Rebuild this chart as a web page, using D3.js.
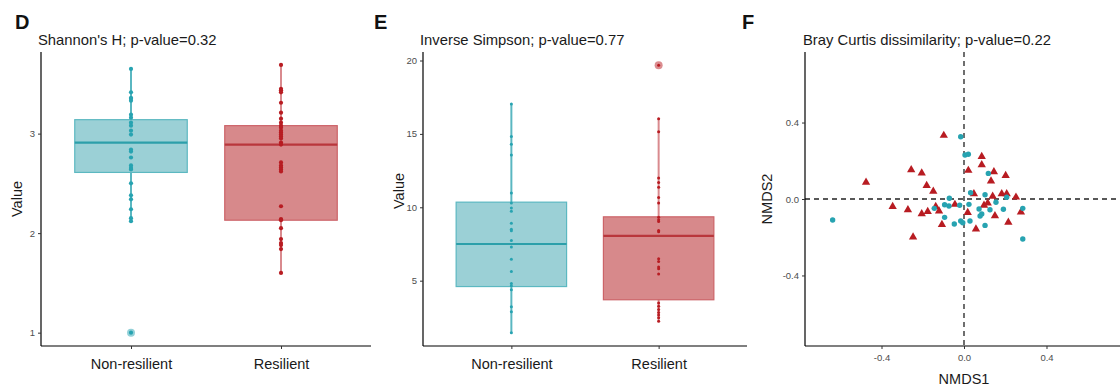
<!DOCTYPE html>
<html>
<head>
<meta charset="utf-8">
<script src="https://cdn.jsdelivr.net/npm/d3@7"></script>
<style>
  html, body { margin: 0; padding: 0; background: #fff; }
  svg { display: block; font-family: "Liberation Sans", Arial, Helvetica, sans-serif; }
</style>
</head>
<body>
<svg id="chart" width="1120" height="388"></svg>
<script>
// ---- data ----
const groups = ["Non-resilient", "Resilient"];

// Shannon's H per sample
const shannonNR = [3.65, 3.415, 3.36, 3.35, 3.33, 3.19, 3.16, 3.11, 3.08, 3.03, 2.99, 2.84,
  2.82, 2.76, 2.68, 2.655, 2.64, 2.50, 2.38, 2.34, 2.24, 2.15, 2.12, 1.0];
const shannonR = [3.69, 3.45, 3.435, 3.415, 3.31, 3.21, 3.15, 3.11, 3.08, 3.06, 3.03, 3.01,
  2.99, 2.97, 2.95, 2.91, 2.89, 2.71, 2.68, 2.66, 2.64, 2.62, 2.27, 2.14, 2.13, 2.05, 1.94,
  1.90, 1.88, 1.84, 1.60];
// box summaries: [lower whisker, Q1, median, Q3, upper whisker]
const shannonBoxNR = [2.12, 2.61, 2.91, 3.14, 3.65];
const shannonBoxR = [1.60, 2.13, 2.89, 3.08, 3.69];
const shannonTicks = [1, 2, 3];

// Inverse Simpson per sample
const simpsonNR = [17.04, 14.83, 14.29, 13.57, 10.97, 10.29, 9.95, 9.73, 8.91, 8.50, 8.40,
  7.74, 7.29, 6.46, 5.63, 4.80, 4.66, 4.39, 3.23, 2.89, 1.46];
const simpsonR = [19.67, 16.04, 15.14, 11.99, 11.69, 11.37, 10.67, 10.29, 9.33, 9.15, 9.03,
  8.42, 8.33, 6.50, 6.31, 5.93, 5.82, 5.46, 3.48, 3.25, 3.03, 2.84, 2.67, 2.48, 2.23];
const simpsonBoxNR = [1.46, 4.60, 7.50, 10.35, 17.04];
const simpsonBoxR = [2.23, 3.70, 8.05, 9.35, 16.04];
const simpsonTicks = [5, 10, 15, 20];

// NMDS ordination (Bray Curtis)
const nmdsNR1 = [-0.016, 0.005, 0.021, 0.118, -0.071, 0.032, 0.102, 0.207, -0.637, -0.144,
  -0.094, -0.073, -0.094, -0.047, -0.021, -0.016, -0.006, 0.024, 0.029, 0.073, 0.078, 0.086,
  0.102, 0.126, 0.155, 0.191, 0.285, 0.285];
const nmdsNR2 = [0.326, 0.230, 0.234, 0.134, 0.004, 0.033, 0.022, 0.009, -0.110, -0.049,
  -0.030, -0.037, -0.096, -0.131, -0.033, -0.115, -0.124, -0.028, -0.115, -0.052, -0.089,
  -0.078, -0.138, -0.056, -0.017, -0.054, -0.049, -0.209];
const nmdsR1 = [-0.475, -0.256, -0.205, -0.181, -0.098, 0.021, 0.086, 0.086, 0.131, 0.145,
  0.202, -0.149, 0.048, 0.139, 0.183, 0.207, 0.252, -0.346, -0.272, -0.205, -0.176, -0.137,
  -0.121, -0.107, -0.044, 0.018, 0.058, 0.097, 0.115, 0.150, 0.215, 0.276, -0.247];
const nmdsR2 = [0.090, 0.155, 0.138, 0.073, 0.335, 0.152, 0.225, 0.181, 0.096, 0.145, 0.125,
  0.043, 0.030, 0.017, 0.030, 0.030, 0.012, -0.037, -0.054, -0.075, -0.063, -0.037, -0.061,
  -0.131, -0.026, -0.068, -0.155, -0.031, -0.019, -0.085, -0.119, -0.066, -0.197];
const nmdsTicks = [-0.4, 0, 0.4];
const nmdsTickLabels = ["-0.4", "0.0", "0.4"];

// ---- styling ----
const pal = {
  "Non-resilient": { dot: "#27a3b1", fill: "#9bd0d6", edge: "#5cb8c1", median: "#2c9faa", whisker: "#5ab7c1" },
  "Resilient": { dot: "#b81c22", fill: "#d7898b", edge: "#cc6368", median: "#b9373c", whisker: "#d98a8e" }
};
const tickColor = "#4d4d4d";
const svg = d3.select("#chart");
svg.append("rect").attr("width", 1120).attr("height", 388).attr("fill", "#fff");

const TOP = 52, BOTTOM = 346;

function axisStyle(g) {
  g.select(".domain").attr("stroke", "#000").attr("stroke-width", 1.2);
  g.selectAll(".tick line").attr("stroke", "#333").attr("stroke-width", 1);
  g.selectAll(".tick text").attr("fill", tickColor).attr("font-size", 9.5)
    .attr("font-family", "Liberation Sans, Arial, sans-serif");
}

function boxPanel(cfg) {
  const x = d3.scalePoint().domain(groups).range([cfg.left, cfg.right]).padding(0.6);
  const y = d3.scaleLinear().domain(cfg.yDomain).range([BOTTOM, TOP]);
  const bw = x.step() * 0.75;
  const g = svg.append("g");

  const sets = [
    { name: groups[0], vals: cfg.nr, box: cfg.boxNR },
    { name: groups[1], vals: cfg.r, box: cfg.boxR }
  ];
  sets.forEach(s => {
    const c = pal[s.name], cx = x(s.name);
    const [lo, q1, med, q3, hi] = s.box;
    // whisker
    g.append("line").attr("x1", cx).attr("x2", cx).attr("y1", y(lo)).attr("y2", y(hi))
      .attr("stroke", c.whisker).attr("stroke-width", 2);
    // box
    g.append("rect").attr("x", cx - bw / 2).attr("width", bw)
      .attr("y", y(q3)).attr("height", y(q1) - y(q3))
      .attr("fill", c.fill).attr("stroke", c.edge).attr("stroke-width", 1.2);
    g.append("line").attr("x1", cx - bw / 2).attr("x2", cx + bw / 2)
      .attr("y1", y(med)).attr("y2", y(med)).attr("stroke", c.median).attr("stroke-width", 2.2);
    // outliers
    g.selectAll(null).data(s.vals.filter(v => v < lo - 1e-9 || v > hi + 1e-9)).join("circle")
      .attr("cx", cx).attr("cy", d => y(d)).attr("r", 4)
      .attr("fill", c.dot).attr("fill-opacity", 0.5);
    // samples
    g.selectAll(null).data(s.vals).join("circle")
      .attr("cx", cx).attr("cy", d => y(d)).attr("r", cfg.dotR)
      .attr("fill", c.dot);
  });

  const ya = g.append("g").attr("transform", `translate(${cfg.left},0)`)
    .call(d3.axisLeft(y).tickValues(cfg.ticks).tickFormat(d3.format("d"))
      .tickSize(3).tickPadding(3).tickSizeOuter(0));
  axisStyle(ya);
  const xa = g.append("g").attr("transform", `translate(0,${BOTTOM})`)
    .call(d3.axisBottom(x).tickSize(3).tickPadding(10).tickSizeOuter(0));
  axisStyle(xa);
  xa.selectAll(".tick text").attr("font-size", 14.5).attr("fill", "#1a1a1a");
  xa.select(".domain").attr("d", `M${cfg.left},0H${cfg.right}`);
  ya.select(".domain").attr("d", `M0,${TOP}V${BOTTOM}`);

  svg.append("text").attr("transform", `translate(${cfg.left - 19},${cfg.yLabelY}) rotate(-90)`)
    .attr("text-anchor", "middle").attr("font-size", 14.5).attr("fill", "#1a1a1a").text("Value");
  svg.append("text").attr("x", cfg.titleX).attr("y", 45).attr("font-size", 14.8)
    .attr("fill", "#1a1a1a").text(cfg.title);
  svg.append("text").attr("x", cfg.letterX).attr("y", 29).attr("font-size", 20)
    .attr("font-weight", "bold").attr("fill", "#111").text(cfg.letter);
}

boxPanel({
  left: 41, right: 371, yDomain: [0.866, 3.82], ticks: shannonTicks,
  nr: shannonNR, r: shannonR, boxNR: shannonBoxNR, boxR: shannonBoxR, dotR: 2.1,
  title: "Shannon's H; p-value=0.32", titleX: 38, letter: "D", letterX: 15, yLabelY: 199
});
boxPanel({
  left: 423, right: 747, yDomain: [0.55, 20.58], ticks: simpsonTicks,
  nr: simpsonNR, r: simpsonR, boxNR: simpsonBoxNR, boxR: simpsonBoxR, dotR: 1.5,
  title: "Inverse Simpson; p-value=0.77", titleX: 420, letter: "E", letterX: 374, yLabelY: 191
});

// ---- NMDS panel ----
(function () {
  const left = 805, right = 1123;
  const x = d3.scaleLinear().domain([-0.771, 0.771]).range([left, right]);
  const y = d3.scaleLinear().domain([-0.769, 0.769]).range([BOTTOM, TOP]);
  const g = svg.append("g");

  g.append("line").attr("x1", x(0)).attr("x2", x(0)).attr("y1", TOP).attr("y2", BOTTOM)
    .attr("stroke", "#222").attr("stroke-width", 1.3).attr("stroke-dasharray", "5,4");
  g.append("line").attr("x1", left).attr("x2", right).attr("y1", y(0)).attr("y2", y(0))
    .attr("stroke", "#222").attr("stroke-width", 1.3).attr("stroke-dasharray", "5,4");

  const tri = d3.symbol().type(d3.symbolTriangle).size(30);
  g.selectAll(null).data(d3.range(nmdsR1.length)).join("path")
    .attr("d", tri)
    .attr("transform", i => `translate(${x(nmdsR1[i])},${y(nmdsR2[i]) + 0.5})`)
    .attr("fill", pal["Resilient"].dot);
  g.selectAll(null).data(d3.range(nmdsNR1.length)).join("circle")
    .attr("cx", i => x(nmdsNR1[i])).attr("cy", i => y(nmdsNR2[i])).attr("r", 2.7)
    .attr("fill", pal["Non-resilient"].dot);

  const ya = g.append("g").attr("transform", `translate(${left},0)`)
    .call(d3.axisLeft(y).tickValues(nmdsTicks).tickFormat((d, i) => nmdsTickLabels[i])
      .tickSize(3).tickPadding(3).tickSizeOuter(0));
  axisStyle(ya);
  ya.select(".domain").attr("d", `M0,${TOP}V${BOTTOM}`);
  const xa = g.append("g").attr("transform", `translate(0,${BOTTOM})`)
    .call(d3.axisBottom(x).tickValues(nmdsTicks).tickFormat((d, i) => nmdsTickLabels[i])
      .tickSize(3).tickPadding(5).tickSizeOuter(0));
  axisStyle(xa);
  xa.select(".domain").attr("d", `M${left},0H${right}`);

  svg.append("text").attr("x", x(0)).attr("y", 384).attr("text-anchor", "middle")
    .attr("font-size", 14.5).attr("fill", "#1a1a1a").text("NMDS1");
  svg.append("text").attr("transform", `translate(772,199) rotate(-90)`)
    .attr("text-anchor", "middle").attr("font-size", 14.5).attr("fill", "#1a1a1a").text("NMDS2");
  svg.append("text").attr("x", 803).attr("y", 45).attr("font-size", 14.8)
    .attr("fill", "#1a1a1a").text("Bray Curtis dissimilarity; p-value=0.22");
  svg.append("text").attr("x", 742).attr("y", 29).attr("font-size", 20)
    .attr("font-weight", "bold").attr("fill", "#111").text("F");
})();
</script>
</body>
</html>
